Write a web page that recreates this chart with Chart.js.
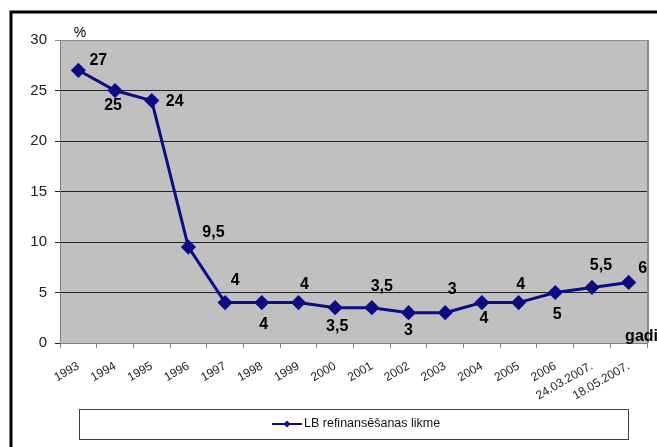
<!DOCTYPE html>
<html lang="lv">
<head>
<meta charset="utf-8">
<title>LB refinansēšanas likme</title>
<script src="https://cdn.jsdelivr.net/npm/chart.js@4"></script>
<style>
    html, body { margin: 0; padding: 0; background: #fff; overflow: hidden; }
    canvas { display: block; }
</style>
</head>
<body>
<canvas id="grafiks" width="657" height="447"></canvas>
<script>
// --- DATI ---
const gadi = ["1993", "1994", "1995", "1996", "1997", "1998", "1999", "2000", "2001",
    "2002", "2003", "2004", "2005", "2006", "24.03.2007.", "18.05.2007."];
const likme = [27, 25, 24, 9.5, 4, 4, 4, 3.5, 3.5, 3, 3, 4, 4, 5, 5.5, 6];
const serijasNosaukums = "LB refinansēšanas likme";

// vērtību uzrakstu nobīde no punkta (px)
const uzrakstuNobide = [
    [20, -10], [-2, 15], [23, 1], [25, -14], [10, -22], [2, 22], [6, -18], [2, 19],
    [10, -21], [0, 18], [7, -23], [2, 16], [2, -18], [2, 22], [9, -22], [14, -14]
];

const krasa = "#0c0c84";
const fonts = "'Liberation Sans', Arial, sans-serif";

// fons, rāmis, uzraksti un leģenda
const zimejums = {
    id: "zimejums",
    beforeDraw(chart) {
        const { ctx, chartArea: a } = chart;
        ctx.save();
        ctx.fillStyle = "#fff";
        ctx.fillRect(0, 0, chart.width, chart.height);
        ctx.fillStyle = "#c0c0c0";
        ctx.fillRect(a.left, a.top, a.right - a.left, a.bottom - a.top);
        // ārējais rāmis
        ctx.strokeStyle = "#000";
        ctx.lineWidth = 3;
        ctx.beginPath();
        ctx.moveTo(11, 447);
        ctx.lineTo(11, 12);
        ctx.lineTo(657, 12);
        ctx.stroke();
        ctx.restore();
    },
    afterDraw(chart) {
        const { ctx, chartArea: a } = chart;
        ctx.save();
        // labā mala
        ctx.strokeStyle = "#8a8a8a";
        ctx.lineWidth = 2;
        ctx.beginPath();
        ctx.moveTo(a.right + 1, a.top);
        ctx.lineTo(a.right + 1, a.bottom);
        ctx.stroke();

        // vērtības pie punktiem
        const meta = chart.getDatasetMeta(0);
        ctx.fillStyle = "#000";
        ctx.font = "bold 16px " + fonts;
        ctx.textAlign = "center";
        ctx.textBaseline = "middle";
        meta.data.forEach((p, i) => {
            const [dx, dy] = uzrakstuNobide[i];
            ctx.fillText(String(likme[i]).replace(".", ","), p.x + dx, p.y + dy);
        });

        // ass nosaukumi
        ctx.font = "14px " + fonts;
        ctx.fillText("%", 80, 33);
        ctx.font = "bold 16px " + fonts;
        ctx.textAlign = "right";
        ctx.textBaseline = "alphabetic";
        ctx.fillText("gadi", 658, 341);

        // leģenda
        ctx.fillStyle = "#fff";
        ctx.fillRect(79.5, 409.5, 549, 30);
        ctx.strokeStyle = "#404040";
        ctx.lineWidth = 1;
        ctx.strokeRect(79.5, 409.5, 549, 30);
        ctx.strokeStyle = krasa;
        ctx.lineWidth = 2;
        ctx.beginPath();
        ctx.moveTo(272, 424);
        ctx.lineTo(302, 424);
        ctx.stroke();
        ctx.fillStyle = krasa;
        ctx.beginPath();
        ctx.moveTo(287, 420.5);
        ctx.lineTo(290.5, 424);
        ctx.lineTo(287, 427.5);
        ctx.lineTo(283.5, 424);
        ctx.closePath();
        ctx.fill();
        ctx.fillStyle = "#111";
        ctx.font = "12.5px " + fonts;
        ctx.textAlign = "left";
        ctx.textBaseline = "middle";
        ctx.fillText(serijasNosaukums, 304, 424);
        ctx.restore();
    }
};

new Chart(document.getElementById("grafiks"), {
    type: "line",
    data: {
        labels: gadi,
        datasets: [{
            label: serijasNosaukums,
            data: likme,
            borderColor: krasa,
            backgroundColor: krasa,
            borderWidth: 3,
            pointStyle: "rectRot",
            pointRadius: 5.5,
            pointHoverRadius: 5.5,
            tension: 0
        }]
    },
    options: {
        responsive: false,
        animation: false,
        devicePixelRatio: 1,
        layout: { padding: { top: 40, right: 10, left: 0, bottom: 0 } },
        plugins: {
            legend: { display: false },
            tooltip: { enabled: false }
        },
        scales: {
            x: {
                offset: true,
                afterFit: (s) => { s.height = 104; },
                grid: { offset: true, drawOnChartArea: false, tickLength: 5, color: "#808080" },
                border: { color: "#808080", width: 1 },
                ticks: {
                    autoSkip: false,
                    minRotation: 30,
                    maxRotation: 30,
                    padding: 11,
                    color: "#222",
                    font: { family: fonts, size: 12 }
                }
            },
            y: {
                min: 0,
                max: 30,
                afterFit: (s) => { s.width = 60; },
                grid: {
                    tickLength: 5,
                    color: (c) => (c.tick.value === 30 ? "#8a8a8a" : "#202020"),
                    lineWidth: 1
                },
                border: { color: "#808080", width: 1 },
                ticks: {
                    stepSize: 5,
                    padding: 8,
                    color: "#222",
                    font: { family: fonts, size: 15 }
                }
            }
        }
    },
    plugins: [zimejums]
});
</script>
</body>
</html>
